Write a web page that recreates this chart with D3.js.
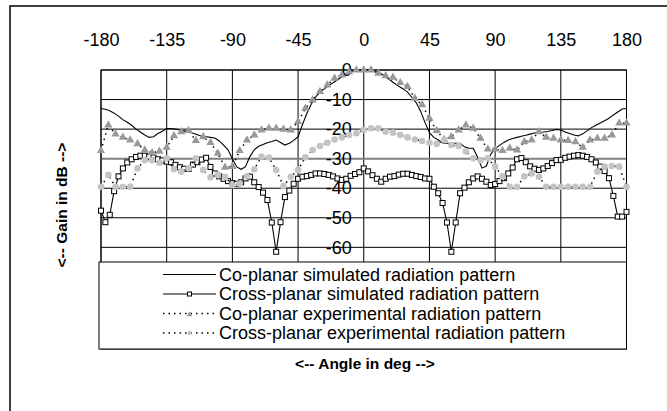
<!DOCTYPE html>
<html>
<head>
<meta charset="utf-8">
<script src="https://cdn.jsdelivr.net/npm/d3@7"></script>
<style>
  html, body { margin: 0; padding: 0; background: #fff; }
  svg { display: block; font-family: "Liberation Sans", Arial, sans-serif; }
</style>
</head>
<body>
<svg id="chart" width="667" height="411"></svg>
<script>
// ---------- data ----------
const xTicks = [-180, -135, -90, -45, 0, 45, 90, 135, 180];
const yTicks = [0, -10, -20, -30, -40, -50, -60];

const simAngles = [
  -180,-177,-174,-171,-168,-165,-162,-159,-156,-153,
  -150,-147,-144,-141,-138,-135,-132,-129,-126,-123,
  -120,-117,-114,-111,-108,-105,-102,-99,-96,-93,
  -90,-87,-84,-81,-78,-75,-72,-69,-66,-63,
  -60,-57,-54,-51,-48,-45,-42,-39,-36,-33,
  -30,-27,-24,-21,-18,-15,-12,-9,-6,-3,
  0,3,6,9,12,15,18,21,24,27,
  30,33,36,39,42,45,48,51,54,57,
  60,63,66,69,72,75,78,81,84,87,
  90,93,96,99,102,105,108,111,114,117,
  120,123,126,129,132,135,138,141,144,147,
  150,153,156,159,162,165,168,171,174,177,
  180
];

const coPlanarSim = [
  -13,-13.3,-13.8,-14.6,-15.6,-16.8,-17.7,-18.7,-20,-21,
  -22,-22.8,-22.6,-21.5,-20.7,-19.8,-19.8,-20,-20.3,-20.6,
  -20.9,-21.4,-21.9,-22.4,-22.6,-22.8,-23,-24,-25.4,-27,
  -30,-32.8,-33.6,-32.7,-29.3,-27,-25.8,-25.2,-24.6,-24.2,
  -23.7,-24.5,-25.4,-24.8,-23.8,-22.6,-18.5,-14.7,-11.6,-9.2,
  -7.3,-6.4,-5.3,-4.3,-3.3,-2.3,-1.4,-0.6,-0.2,0,
  0,0,-0.2,-0.6,-1.3,-2.3,-3.4,-4.5,-5.5,-6.4,
  -7.5,-9.3,-11.1,-14,-17.8,-21.2,-22.8,-23.7,-24.7,-24.8,
  -24.8,-24.8,-24.8,-26,-26.5,-26.5,-29.5,-33.2,-32.5,-28.5,
  -26.6,-25.5,-24.5,-23.7,-23.2,-22.8,-22.4,-22.1,-21.7,-21.3,
  -21.1,-21,-20.8,-20.5,-20.1,-20.3,-21,-21.5,-22,-22.3,
  -21.6,-20.6,-19.5,-18.7,-17.9,-17.2,-16.3,-15.2,-14.2,-13.2,
  -13
];

const crossPlanarSim = [
  -47.6,-51.5,-49,-41,-36,-33.3,-31.3,-30.2,-29.4,-29,
  -29,-29.3,-29.6,-30.2,-30.6,-31,-31.2,-32.1,-32.9,-33.4,
  -33.5,-32,-31.2,-30.3,-29.7,-32.8,-35,-36,-36.8,-37.6,
  -38.3,-38.5,-38,-36.7,-36.1,-38,-39.6,-41.5,-44,-51.6,
  -61.5,-51.5,-43,-40.8,-38.5,-36.8,-36.1,-35.9,-35.5,-35,
  -35,-35.2,-35.5,-36,-36.7,-37.2,-36.8,-35.8,-35.2,-34.6,
  -33.3,-34.3,-35.6,-36.8,-37.8,-36.8,-36.1,-35.9,-35.4,-35.1,
  -35.1,-35.5,-35.9,-36.2,-36.7,-36.8,-39.5,-41.7,-45,-51.6,
  -61.5,-51.6,-41.7,-39.8,-38,-36.7,-36,-36.8,-37.8,-38.9,
  -38.6,-37.6,-36.6,-35,-33,-30.2,-29.8,-31.2,-32.6,-33.4,
  -33.8,-33.3,-32.5,-31.5,-30.5,-30.4,-29.7,-29.3,-29,-28.8,
  -29,-29.4,-30.2,-31.3,-32.7,-34.2,-36.6,-42.6,-49.6,-49.6,
  -48
];

const expAngles = [
  -180,-175,-170,-165,-160,-155,-150,-145,-140,-135,
  -130,-125,-120,-115,-110,-105,-100,-95,-90,-85,
  -80,-75,-70,-65,-60,-55,-50,-45,-40,-35,
  -30,-25,-20,-15,-10,-5,0,5,10,15,
  20,25,30,35,40,45,50,55,60,65,
  70,75,80,85,90,95,100,105,110,115,
  120,125,130,135,140,145,150,155,160,165,
  170,175,180
];

const coPlanarExp = [
  -27.3,-18.6,-21.7,-22.8,-23.7,-25,-27.1,-28,-27.5,-26.2,
  -22.3,-20.9,-20.5,-23.9,-22.6,-24.6,-28.2,-32.9,-32.7,-27.3,
  -23.7,-22,-20.3,-19.7,-19.7,-20.1,-20.3,-17.5,-13,-10.2,
  -7.3,-5.1,-2.8,-1.7,-0.6,0,0,0,-1.1,-2,
  -2.5,-4.3,-5.6,-9.6,-11.8,-16.4,-20.5,-23.5,-22.6,-20.3,
  -18.6,-19.7,-23.1,-26.8,-26.8,-27.3,-26.5,-27.1,-24.3,-23.7,
  -20.9,-22.8,-23.1,-23.7,-23.9,-24.3,-26.2,-23.7,-23.1,-23.1,
  -22,-18,-18
];

const crossPlanarExp = [
  -39.5,-35.5,-39.5,-39.5,-39.5,-33.3,-30.5,-30.5,-31.4,-29.9,
  -33.6,-34.4,-33.3,-29.9,-33.8,-36.3,-35.5,-36.1,-39,-38.5,
  -36,-33.6,-29.3,-29.6,-33.8,-39.3,-36.1,-33.8,-29.5,-27.1,
  -25.7,-24.6,-23.5,-22.8,-22,-21.4,-20.3,-19.7,-19.7,-20.9,
  -21.2,-22,-22.8,-23.5,-24,-24.6,-25,-23.7,-25.4,-25.7,
  -27.6,-29.9,-30.5,-29.9,-32.7,-36,-39.5,-39.5,-36,-35,
  -36.1,-39.5,-39.5,-39.5,-39.5,-39.5,-39.5,-39.5,-34.4,-32.7,
  -32.5,-32.7,-39.5
];

const seriesNames = [
  "Co-planar simulated radiation pattern",
  "Cross-planar simulated radiation pattern",
  "Co-planar experimental radiation pattern",
  "Cross-planar experimental radiation pattern"
];

// ---------- layout ----------
const svg = d3.select("#chart");
const L = 101, R = 626.5, T = 70, B = 349;
const x = d3.scaleLinear().domain([-180, 180]).range([L, R]);
const y = d3.scaleLinear().domain([0, -94.4]).range([T, B]);
const fmt = d => String(d);   // plain hyphen-minus, as in the reference

const triColor = "#999999";
const circColor = "#c4c4c4";

// outer chart-area border (only left/top edges are inside the picture)
svg.append("rect").attr("x", 10).attr("y", 6).attr("width", 700).attr("height", 450)
  .attr("fill", "none").attr("stroke", "#000").attr("stroke-width", 1.5);

// gridlines
const grid = svg.append("g");
grid.selectAll("line.v").data(xTicks).join("line")
  .attr("x1", d => x(d)).attr("x2", d => x(d)).attr("y1", T).attr("y2", B)
  .attr("stroke", "#000").attr("stroke-width", 1);
grid.selectAll("line.h").data(yTicks.filter(d => d !== -30)).join("line")
  .attr("x1", L).attr("x2", R).attr("y1", d => y(d)).attr("y2", d => y(d))
  .attr("stroke", "#000").attr("stroke-width", 1);
// horizontal axis line (crosses at -30)
svg.append("line").attr("x1", L).attr("x2", R).attr("y1", y(-30)).attr("y2", y(-30))
  .attr("stroke", "#808080").attr("stroke-width", 2);
// plot frame
svg.append("rect").attr("x", L).attr("y", T).attr("width", R - L).attr("height", B - T)
  .attr("fill", "none").attr("stroke", "#000").attr("stroke-width", 1);

// top tick labels
const xAxis = svg.append("g").attr("transform", "translate(0,50)")
  .call(d3.axisTop(x).tickValues(xTicks).tickSize(0).tickPadding(4).tickFormat(fmt));
xAxis.select(".domain").remove();
xAxis.selectAll("text").attr("font-size", 18).attr("fill", "#000")
  .attr("font-family", "'Liberation Sans', Arial, sans-serif");

// y tick labels at x = 0
const yAxis = svg.append("g").attr("transform", `translate(${x(0)},0)`)
  .call(d3.axisLeft(y).tickValues(yTicks).tickSize(0).tickPadding(12).tickFormat(fmt));
yAxis.select(".domain").remove();
yAxis.selectAll("text").attr("font-size", 18).attr("fill", "#000")
  .attr("font-family", "'Liberation Sans', Arial, sans-serif");

// ---------- series ----------
const zip = (xs, ys) => xs.map((a, i) => [a, ys[i]]);
const line = d3.line().x(d => x(d[0])).y(d => y(d[1]));

const coSimPts = zip(simAngles, coPlanarSim);
const crossSimPts = zip(simAngles, crossPlanarSim);
const coExpPts = zip(expAngles, coPlanarExp);
const crossExpPts = zip(expAngles, crossPlanarExp);

const plot = svg.append("g");

// co-planar simulated
plot.append("path").datum(coSimPts).attr("d", line)
  .attr("fill", "none").attr("stroke", "#000").attr("stroke-width", 1.1);

// cross-planar simulated
plot.append("path").datum(crossSimPts).attr("d", line)
  .attr("fill", "none").attr("stroke", "#000").attr("stroke-width", 1.1);
plot.selectAll("rect.sq").data(crossSimPts).join("rect")
  .attr("x", d => x(d[0]) - 2.5).attr("y", d => y(d[1]) - 2.5)
  .attr("width", 5).attr("height", 5)
  .attr("fill", "#fff").attr("stroke", "#000").attr("stroke-width", 1);

// co-planar experimental
plot.append("path").datum(coExpPts).attr("d", line)
  .attr("fill", "none").attr("stroke", "#000").attr("stroke-width", 1.5)
  .attr("stroke-dasharray", "1.5,4");
const tri = d3.symbol().type(d3.symbolTriangle).size(30);
plot.selectAll("path.tri").data(coExpPts).join("path")
  .attr("d", tri).attr("transform", d => `translate(${x(d[0])},${y(d[1])})`)
  .attr("fill", triColor);

// cross-planar experimental
plot.append("path").datum(crossExpPts).attr("d", line)
  .attr("fill", "none").attr("stroke", "#000").attr("stroke-width", 1.5)
  .attr("stroke-dasharray", "1.5,4");
plot.selectAll("circle.c").data(crossExpPts).join("circle")
  .attr("cx", d => x(d[0])).attr("cy", d => y(d[1])).attr("r", 3.3)
  .attr("fill", circColor);

// ---------- legend ----------
const lg = svg.append("g");
lg.append("rect").attr("x", 99).attr("y", 262).attr("width", 527.5).attr("height", 87)
  .attr("fill", "#fff").attr("stroke", "#000").attr("stroke-width", 1);
const ly = i => 274.5 + i * 19.5;
const lx1 = 163, lx2 = 216, lmx = 189.5;
seriesNames.forEach((name, i) => {
  const g = lg.append("g");
  const ln = g.append("line").attr("x1", lx1).attr("x2", lx2).attr("y1", ly(i)).attr("y2", ly(i))
    .attr("stroke", "#000");
  if (i >= 2) ln.attr("stroke-width", 1.5).attr("stroke-dasharray", "1.5,4");
  else ln.attr("stroke-width", 1.1);
  if (i === 1) g.append("rect").attr("x", lmx - 2).attr("y", ly(i) - 2).attr("width", 4).attr("height", 4)
    .attr("fill", "#fff").attr("stroke", "#000");
  if (i === 2) g.append("path").attr("d", d3.symbol().type(d3.symbolTriangle).size(14))
    .attr("transform", `translate(${lmx},${ly(i) + 1})`).attr("fill", triColor);
  if (i === 3) g.append("circle").attr("cx", lmx).attr("cy", ly(i)).attr("r", 2.2).attr("fill", circColor);
  g.append("text").attr("x", 219).attr("y", ly(i)).attr("dy", "0.35em")
    .attr("font-size", 18).text(name);
});

// ---------- axis titles ----------
svg.append("text").attr("x", 365).attr("y", 369).attr("text-anchor", "middle")
  .attr("font-size", 15.5).attr("font-weight", "bold").text("<-- Angle in deg -->");
svg.append("text").attr("transform", "translate(67,205) rotate(-90)").attr("text-anchor", "middle")
  .attr("font-size", 15.5).attr("font-weight", "bold").text("<-- Gain in dB -->");
</script>
</body>
</html>
